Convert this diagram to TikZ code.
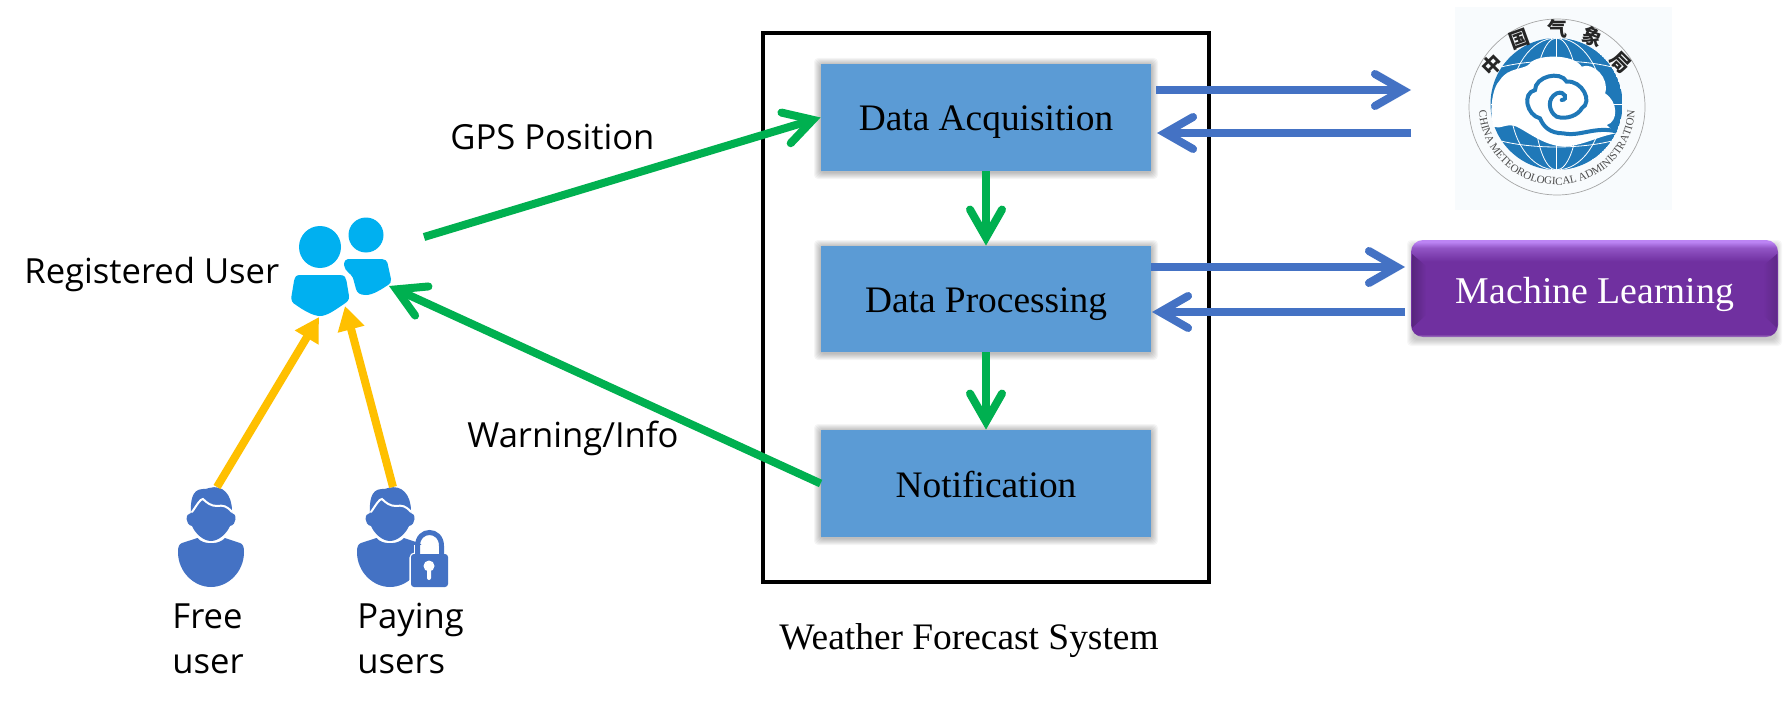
\documentclass[tikz,border=0pt]{standalone}
\usepackage{fontspec}
\setmainfont{Liberation Serif}
\newfontfamily\labelfont{Open Sans}
\newfontfamily\cjkfont{Noto Sans CJK SC}
\usetikzlibrary{arrows.meta,decorations.text}
\definecolor{boxblue}{HTML}{5B9BD5}
\definecolor{linkblue}{HTML}{4472C4}
\definecolor{flowgreen}{HTML}{00B050}
\definecolor{amber}{HTML}{FFC000}
\definecolor{cyanuser}{HTML}{00B0F0}
\definecolor{mlpurple}{HTML}{7030A0}
\definecolor{mllight}{HTML}{BC84F4}
\definecolor{logoblue}{HTML}{1F78B8}
\definecolor{logobg}{HTML}{F8FBFD}
\pgfdeclareverticalshading{mlshade}{100bp}{
  color(0bp)=(mlpurple!65!white); color(25bp)=(mlpurple!65!white);
  color(26.5bp)=(mlpurple); color(64bp)=(mlpurple);
  color(71bp)=(mlpurple!55!mllight); color(74bp)=(mllight); color(100bp)=(mllight)}
\newcommand{\softshadow}[5]{%
  \foreach \k in {1,...,7}{
    \fill[black,opacity=#5,rounded corners=2pt]
      ({#1-\k},{#2-\k+1}) rectangle ({#3+\k},{#4+\k+1});
  }}
\tikzset{
  x=.5pt,y=-.5pt,
  flowbox/.style={draw=none,fill=boxblue,minimum width=165pt,inner sep=0pt,text height=13.5pt,text depth=0pt,font=\fontsize{18.7}{22}\selectfont},
  greenarrow/.style={draw=flowgreen,line width=4pt,-{Straight Barb[length=14pt,width=16pt,line cap=round,line join=miter]}},
  bluearrow/.style={draw=linkblue,line width=4pt,-{Straight Barb[length=14pt,width=16pt,line cap=round,line join=miter]}},
  amberarrow/.style={draw=amber,line width=4pt,-{Triangle[length=12pt,width=13pt]}},
  sanslabel/.style={inner sep=0pt,anchor=base west,font=\labelfont\fontsize{17.3}{20}\selectfont},
  serifcaption/.style={inner sep=0pt,anchor=base,font=\fontsize{18.7}{22}\selectfont},
  usr/.pic={
    \fill[linkblue] (-13.5,51) .. controls (-8,58) and (8,58) .. (14,51) -- (29,56)
      .. controls (32,57) and (33,60) .. (33,65)
      .. controls (33,85) and (17,100) .. (0,100)
      .. controls (-17,100) and (-33,85) .. (-33,65)
      .. controls (-33,60) and (-32,57) .. (-29,56) -- cycle;
    \fill[linkblue] (-20,26) .. controls (-20.5,16) and (-20,2) .. (-8,2)
      .. controls (-6,2) and (-4,2) .. (-2,1)
      .. controls (12,-3) and (21,8) .. (21,24) -- (21,26)
      .. controls (26,26) and (26,38) .. (19,39)
      .. controls (16,46) and (8,54) .. (0,54)
      .. controls (-8,54) and (-16,46) .. (-19,39)
      .. controls (-26,38) and (-26,26) .. (-20,26) -- cycle;
    \draw[white,line width=1pt,line cap=round] (-19,25) .. controls (-14,18) and (-11,12) .. (-8,12)
      .. controls (-4,16) and (0,19) .. (6,19)
      .. controls (12,18) and (16,19) .. (21,25);
  },
}
\begin{document}
\begin{tikzpicture}
\useasboundingbox (0,0) rectangle (1788,706);
\fill[white] (0,0) rectangle (1788,706);

% frame
\node[draw=black,line width=2pt,minimum width=223pt,minimum height=274.5pt,inner sep=0pt] (frame) at (986,307.5) {};

% boxes
\softshadow{821}{64}{1151}{171}{.04}
\softshadow{821}{246}{1151}{352}{.04}
\softshadow{821}{430}{1151}{537}{.04}
\node[flowbox,minimum height=53.5pt] (acq) at (986,117.5) {Data Acquisition};
\node[flowbox,minimum height=53pt] (proc) at (986,299) {Data Processing};
\node[flowbox,minimum height=53.5pt] (notif) at (986,483.5) {Notification};
\node[serifcaption] (caption) at (969,649) {Weather Forecast System};

% logo
\node[fill=logobg,minimum width=108.5pt,minimum height=101.5pt,inner sep=0pt] (logo) at (1563.5,108.5) {};
\draw[gray!70,line width=.35pt] (1557,107) circle [radius=88];
\begin{scope}
  \clip (1556.5,104) circle [radius=66];
  \fill[logoblue] (1556.5,104) circle [radius=66];
  \begin{scope}[shift={(1556.5,104)},white,line width=.4pt]
    \draw (0,-66) -- (0,66);
    \draw (-66,0) -- (66,0);
    \draw (0,0) ellipse [x radius=22,y radius=66];
    \draw (0,0) ellipse [x radius=46,y radius=66];
    \draw (-66,-34) .. controls (-30,-46) and (30,-46) .. (66,-34);
    \draw (-66,34) .. controls (-30,46) and (30,46) .. (66,34);
  \end{scope}
\end{scope}
\begin{scope}[shift={(1450,5)},x=.1667pt,y=-.1667pt]
  \fill[white] (130,365) .. controls (118,320) and (125,250) .. (150,225)
    .. controls (175,185) and (225,195) .. (240,175)
    .. controls (260,148) and (370,145) .. (395,185)
    .. controls (430,170) and (480,220) .. (465,265)
    .. controls (505,290) and (505,350) .. (470,360)
    -- (497,385)
    .. controls (440,395) and (400,422) .. (340,425)
    .. controls (280,420) and (240,385) .. (200,365)
    .. controls (170,352) and (150,375) .. (130,365) -- cycle;
  \draw[logoblue,line width=2pt,line cap=round]
    (495,378) .. controls (430,365) and (390,395) .. (340,385)
    .. controls (300,385) and (280,365) .. (270,340)
    .. controls (230,330) and (215,265) .. (255,255)
    .. controls (255,215) and (330,195) .. (350,230)
    .. controls (395,225) and (430,290) .. (395,310)
    .. controls (385,330) and (350,345) .. (320,335)
    .. controls (295,320) and (290,280) .. (320,265)
    .. controls (345,255) and (355,285) .. (335,285);
\end{scope}
\foreach \nm/\ch/\px/\py/\rot in {a/中/1492/65/45,b/国/1519/39/20,c/气/1557/29/0,d/象/1592/37/-20,e/局/1621/63/-45}{
  \node[rotate=\rot,inner sep=0pt,font=\cjkfont\bfseries\fontsize{10}{11}\selectfont,text=black!85] (logo\nm) at (\px,\py) {\ch};
}
\path[decorate,decoration={text along path,text align=center,
    text={|\fontsize{5.5}{6}\selectfont\color{black!70}|CHINA METEOROLOGICAL ADMINISTRATION}}]
  (1557,107) ++(189:78) arc [start angle=189,end angle=-9,radius=78];

% machine learning
\softshadow{1414}{246}{1775}{338}{.03}
\node[shading=mlshade,rounded corners=6pt,minimum width=183.5pt,minimum height=48.5pt,inner sep=0pt] (mlbase) at (1594.5,288.5) {};
\shade[left color=mlpurple!78!black,right color=mlpurple] (1412,254) -- (1426,266) -- (1426,315) -- (1412,328) -- cycle;
\shade[right color=mlpurple!85!black,left color=mlpurple] (1777,254) -- (1763,266) -- (1763,315) -- (1777,328) -- cycle;
\node[inner sep=0pt,anchor=base,text=white,font=\fontsize{18.9}{22}\selectfont] (ml) at (1595,303) {Machine Learning};

% people icons
\coordinate (reguser) at (345,270);
\fill[cyanuser] (320,247) circle [radius=21];
\fill[cyanuser] (366,235) circle [radius=17.5];
\fill[cyanuser] (300,275) -- (340,275) .. controls (345,275) and (346,278) .. (346.5,281)
  -- (349,296) .. controls (349.5,300) and (347,302) .. (344,304)
  .. controls (335,310) and (327,316) .. (320,316)
  .. controls (313,316) and (303,310) .. (296,305)
  .. controls (292,303) and (291,300) .. (291.5,296)
  -- (294,281) .. controls (295,277) and (296,275) .. (300,275) -- cycle;
\fill[cyanuser] (348,259) -- (382,259) .. controls (385,259) and (387,261) .. (387.5,263)
  -- (391,279) .. controls (391.5,282) and (390,284) .. (388,285)
  .. controls (382,289) and (373,295) .. (366,295)
  .. controls (360,295) and (357,293) .. (356,289)
  -- (353,278) .. controls (351,273) and (345,272) .. (344,265)
  .. controls (344,261) and (346,259) .. (348,259) -- cycle;
\pic (freeicon) at (211,487) {usr};
\pic (payicon) at (390,487) {usr};
\draw[white,line width=1.6pt,rounded corners=2pt,fill=white] (411,554) rectangle (448,587);
\fill[white] (414,545) rectangle (445,556);
\fill[linkblue,rounded corners=1.5pt] (411,554) rectangle (448,587);
\draw[linkblue,line width=2.5pt] (417.5,556) -- (417.5,546) .. controls (417.5,528) and (441.5,528) .. (441.5,546) -- (441.5,556);
\fill[white] (429,566) circle [radius=5.5];
\fill[white,rounded corners=1pt] (427,566) rectangle (431,580);

% connector ends
\coordinate (regout) at (424,237);
\coordinate (regin) at (389,286);
\coordinate (freeout) at (217,487);
\coordinate (freein) at (319,317);
\coordinate (payout) at (393,487);
\coordinate (payin) at (345,306);
\coordinate (acqout) at (1156,90);
\coordinate (cmain) at (1411,90);
\coordinate (cmaout) at (1411,133);
\coordinate (acqin) at (1157,133);
\coordinate (procout) at (1151,267);
\coordinate (mlin) at (1405,267);
\coordinate (mlout) at (1405,312);
\coordinate (procin) at (1152,312);

% connectors
\draw[greenarrow] (regout) -- (acq.west);
\draw[greenarrow] (notif.west) -- (regin);
\draw[greenarrow] (acq.south) -- (proc.north);
\draw[greenarrow] (proc.south) -- (notif.north);
\draw[amberarrow] (freeout) -- (freein);
\draw[amberarrow] (payout) -- (payin);
\draw[bluearrow] (acqout) -- (cmain);
\draw[bluearrow] (cmaout) -- (acqin);
\draw[bluearrow] (procout) -- (mlin);
\draw[bluearrow] (mlout) -- (procin);

% labels
\node[sanslabel] (regl) at (24,283) {Registered User};
\node[sanslabel] (gps) at (450,149) {GPS Position};
\node[sanslabel] (warn) at (467,447) {Warning/Info};
\node[sanslabel] (free1) at (172,628) {Free};
\node[sanslabel] (free2) at (172,673) {user};
\node[sanslabel] (pay1) at (357,628) {Paying};
\node[sanslabel] (pay2) at (357,673) {users};
\end{tikzpicture}
\end{document}
